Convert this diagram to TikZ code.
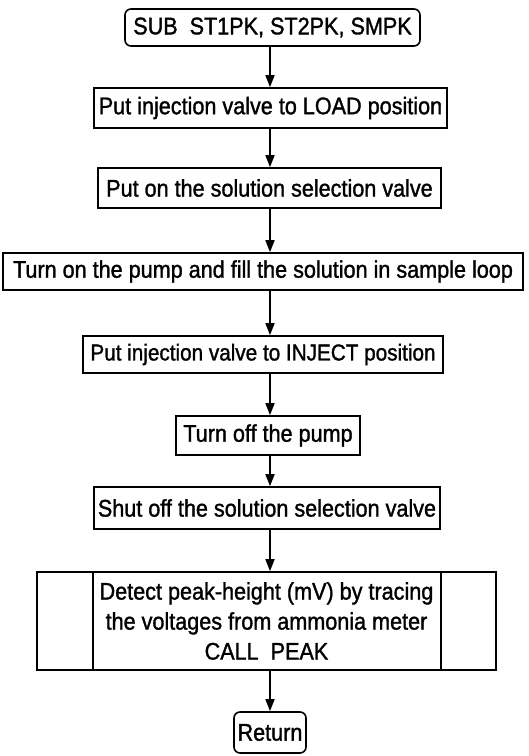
\documentclass[tikz,border=0pt]{standalone}
\usepackage{fontspec}
\setmainfont{Liberation Sans}[FakeStretch=0.9,FakeBold=1.3]
\usetikzlibrary{arrows.meta}
\begin{document}
\begin{tikzpicture}[x=1pt,y=-1pt,
  box/.style={draw,line width=1.6pt,inner sep=0pt,align=center,font=\fontsize{24}{30}\selectfont},
  rbox/.style={box,rounded corners=6pt},
  arr/.style={line width=1.6pt,-{Triangle[length=12pt,width=9pt]}}]
\useasboundingbox (0,0) rectangle (529,756);
\coordinate (ax) at (270,0);
\coordinate (l1) at (93,0);
\coordinate (l2) at (441,0);
\node[rbox,minimum width=295pt,minimum height=37pt] (b1) at (272.5,27.5) {SUB\hspace{0.5em}ST1PK, ST2PK, SMPK};
\node[box,minimum width=353pt,minimum height=40pt] (b2) at (270.5,108) {Put injection valve to LOAD position};
\node[box,minimum width=343pt,minimum height=40pt] (b3) at (269.5,188) {Put on the solution selection valve};
\node[box,minimum width=520pt,minimum height=37pt] (b4) at (263,271.5) {Turn on the pump and fill the solution in sample loop};
\node[box,minimum width=360pt,minimum height=37pt,font=\fontsize{23}{30}\selectfont] (b5) at (263,354.5) {Put injection valve to INJECT position};
\node[box,minimum width=184pt,minimum height=39pt] (b6) at (268,435.5) {Turn off the pump};
\node[box,minimum width=346pt,minimum height=42pt] (b7) at (267,508) {Shut off the solution selection valve};
\node[box,minimum width=459pt,minimum height=98pt] (b8) at (266.5,621) {Detect peak-height (mV) by tracing\\the voltages from ammonia meter\\CALL\hspace{0.5em}PEAK};
\draw[line width=1.6pt] (b8.north -| l1) -- (b8.south -| l1);
\draw[line width=1.6pt] (b8.north -| l2) -- (b8.south -| l2);
\node[rbox,minimum width=72pt,minimum height=41pt] (b9) at (270,732.5) {Return};
\foreach \a/\b in {b1/b2,b2/b3,b3/b4,b4/b5,b5/b6,b6/b7,b7/b8,b8/b9}
  \draw[arr] (\a.south -| ax) -- (\b.north -| ax);
\end{tikzpicture}
\end{document}
